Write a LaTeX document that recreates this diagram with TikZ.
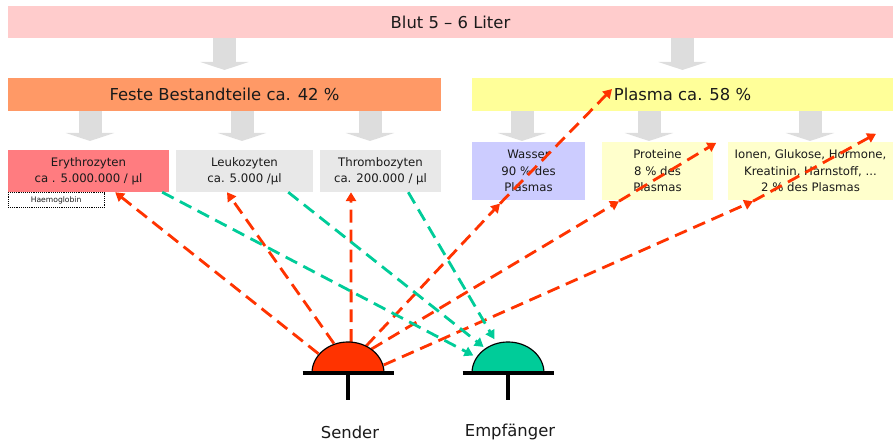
\documentclass[tikz,border=0pt]{standalone}
\usepackage{fontspec}
\setmainfont{DejaVu Sans}
\usepackage{tikz}
\usetikzlibrary{arrows.meta, positioning, calc}

\definecolor{blutrosa}{HTML}{FFCCCC}
\definecolor{festeorange}{HTML}{FF9966}
\definecolor{plasmagelb}{HTML}{FFFF99}
\definecolor{eryrot}{HTML}{FF7C80}
\definecolor{zellgrau}{HTML}{E8E8E8}
\definecolor{wasserblau}{HTML}{CCCCFF}
\definecolor{hellgelb}{HTML}{FFFFCC}
\definecolor{pfeilgrau}{HTML}{DDDDDD}
\definecolor{senderrot}{HTML}{FF3300}
\definecolor{empfgruen}{HTML}{00CC99}
\definecolor{textgrau}{HTML}{1A1A1A}

\begin{document}
\begin{tikzpicture}[x=0.3mm, y=0.3mm,
    level/.style={rectangle, inner sep=0pt, minimum height=9.9mm, font=\fontsize{14}{16}\selectfont, text=textgrau},
    part/.style={rectangle, inner sep=0pt, align=center, font=\fontsize{10}{14}\selectfont, text=textgrau},
    blockarrow/.style={draw=pfeilgrau, line width=6.9mm, -{Triangle[length=2.4mm, width=14.4mm]}},
    sendray/.style={draw=senderrot, line width=2.4pt, dash pattern=on 11pt off 6pt, -{Triangle[length=7.5pt, width=8.5pt]}},
    echoray/.style={draw=empfgruen, line width=2.4pt, dash pattern=on 11pt off 6pt, -{Triangle[length=7.5pt, width=8.5pt]}},
    dome/.style={draw=black, line width=1pt},
    stand/.style={line width=2.6pt},
    caption/.style={font=\fontsize{14}{16}\selectfont, text=textgrau}
]
\useasboundingbox (0,0) rectangle (893,445);

% Blut und Hauptbestandteile
\node[level, fill=blutrosa, minimum width=265.5mm, minimum height=9.6mm] (blut) at (450.5,423) {Blut 5 – 6 Liter};
\node[level, fill=festeorange, minimum width=129.9mm] (feste) at (224.5,350.5) {Feste Bestandteile ca. 42 \%};
\node[level, fill=plasmagelb, minimum width=126.3mm] (plasma) at (682.5,350.5) {Plasma ca. 58 \%};

% Zellen
\node[part, fill=eryrot, minimum width=48.3mm, minimum height=12.6mm] (ery) at (88.5,274) {Erythrozyten\\ca . 5.000.000 / µl};
\node[part, fill=zellgrau, minimum width=41.1mm, minimum height=12.6mm] (leu) at (244.5,274) {Leukozyten\\ca. 5.000 /µl};
\node[part, fill=zellgrau, minimum width=36.3mm, minimum height=12.6mm] (thr) at (380.5,274) {Thrombozyten\\ca. 200.000 / µl};
\node[draw, densely dotted, line width=0.6pt, inner sep=0pt, minimum width=28.8mm, minimum height=4.5mm,
      font=\fontsize{6.5}{7}\selectfont, text=textgrau, anchor=north west] (hb) at (ery.south west) {Haemoglobin};

% Plasmaanteile
\node[part, fill=wasserblau, minimum width=33.9mm, minimum height=17.4mm] (wasser) at (528.5,274) {Wasser\\90 \% des\\Plasmas};
\node[part, fill=hellgelb, minimum width=33.3mm, minimum height=17.4mm] (prot) at (657.5,274) {Proteine\\8 \% des\\Plasmas};
\node[part, fill=hellgelb, minimum width=49.5mm, minimum height=17.4mm] (ion) at (810.5,274) {Ionen, Glukose, Hormone,\\Kreatinin, Harnstoff, ...\\2 \% des Plasmas};

% Blockpfeile
\coordinate (tipA) at (0,375);
\coordinate (tipB) at (0,304);
\draw[blockarrow] (blut.south -| feste.north) -- (tipA -| feste.north);
\draw[blockarrow] (blut.south -| plasma.north) -- (tipA -| plasma.north);
\foreach \upper/\lower/\dx in {feste/ery/1.5, feste/leu/-2.5, feste/thr/-10.5, plasma/wasser/-6.5, plasma/prot/-8.5, plasma/ion/-0.5}
  \draw[blockarrow] ($(\lower.north |- \upper.south)+(\dx,0)$) -- ($(\lower.north |- tipB)+(\dx,0)$);

% Sender und Empfaenger
\coordinate (sender) at (348,72);
\coordinate (empf) at (508,72);
\path (sender) ++(143:37 and 32) coordinate (s1)
      (sender) ++(113:36 and 32) coordinate (s2)
      (sender) ++(85:36 and 31) coordinate (s3)
      (sender) ++(60:36 and 31) coordinate (s4)
      (sender) ++(50:36 and 31) coordinate (s5)
      (sender) ++(15:37 and 31) coordinate (s6);
\path (empf) ++(150:40 and 35) coordinate (e1)
      (empf) ++(130:38 and 34) coordinate (e2)
      (empf) ++(110:40 and 36) coordinate (e3);

% Strahlen
\coordinate (w1) at ([xshift=-8.55mm,yshift=-1mm]wasser.south);
\coordinate (p1) at ([xshift=-11.55mm,yshift=-0.3mm]prot.south);
\coordinate (i1) at ([xshift=-17.25mm,yshift=-0.3mm]ion.south);
\draw[sendray] (s1) -- ([xshift=8mm]ery.south);
\draw[sendray] (s2) -- ([xshift=-5.25mm]leu.south);
\draw[sendray] (s3) -- ([xshift=-8.85mm]thr.south);
\draw[sendray] (s4) -- (w1);
\draw[sendray] (w1) -- ([xshift=-21.15mm,yshift=1.65mm]plasma.center);
\draw[sendray] (s5) -- (p1);
\draw[sendray] (p1) -- ([xshift=0.9mm,yshift=-0.3mm]prot.north east);
\draw[sendray] (s6) -- (i1);
\draw[sendray] (i1) -- ([xshift=19.65mm,yshift=2.4mm]ion.north);
\draw[echoray] ([xshift=-2.1mm]ery.south east) -- (e1);
\draw[echoray] ([xshift=-7.5mm]leu.south east) -- (e2);
\draw[echoray] ([xshift=-9.9mm]thr.south east) -- (e3);

\filldraw[dome, fill=senderrot] (sender) ++(36,0) arc[start angle=0, end angle=180, x radius=10.8mm, y radius=9.3mm] -- cycle;
\filldraw[dome, fill=empfgruen] (empf) ++(36,0) arc[start angle=0, end angle=180, x radius=10.8mm, y radius=9.3mm] -- cycle;
\draw[stand] (sender) ++(-45.5,0) -- ++(91,0);
\draw[stand] (empf) ++(-45.5,0) -- ++(91,0);
\draw[line width=3pt] (sender) -- ++(0,-27);
\draw[line width=3pt] (empf) -- ++(0,-27);

\node[caption] (senderlabel) at (350,13) {Sender};
\node[caption] (empflabel) at (510,13) {Empfänger};

\end{tikzpicture}
\end{document}
